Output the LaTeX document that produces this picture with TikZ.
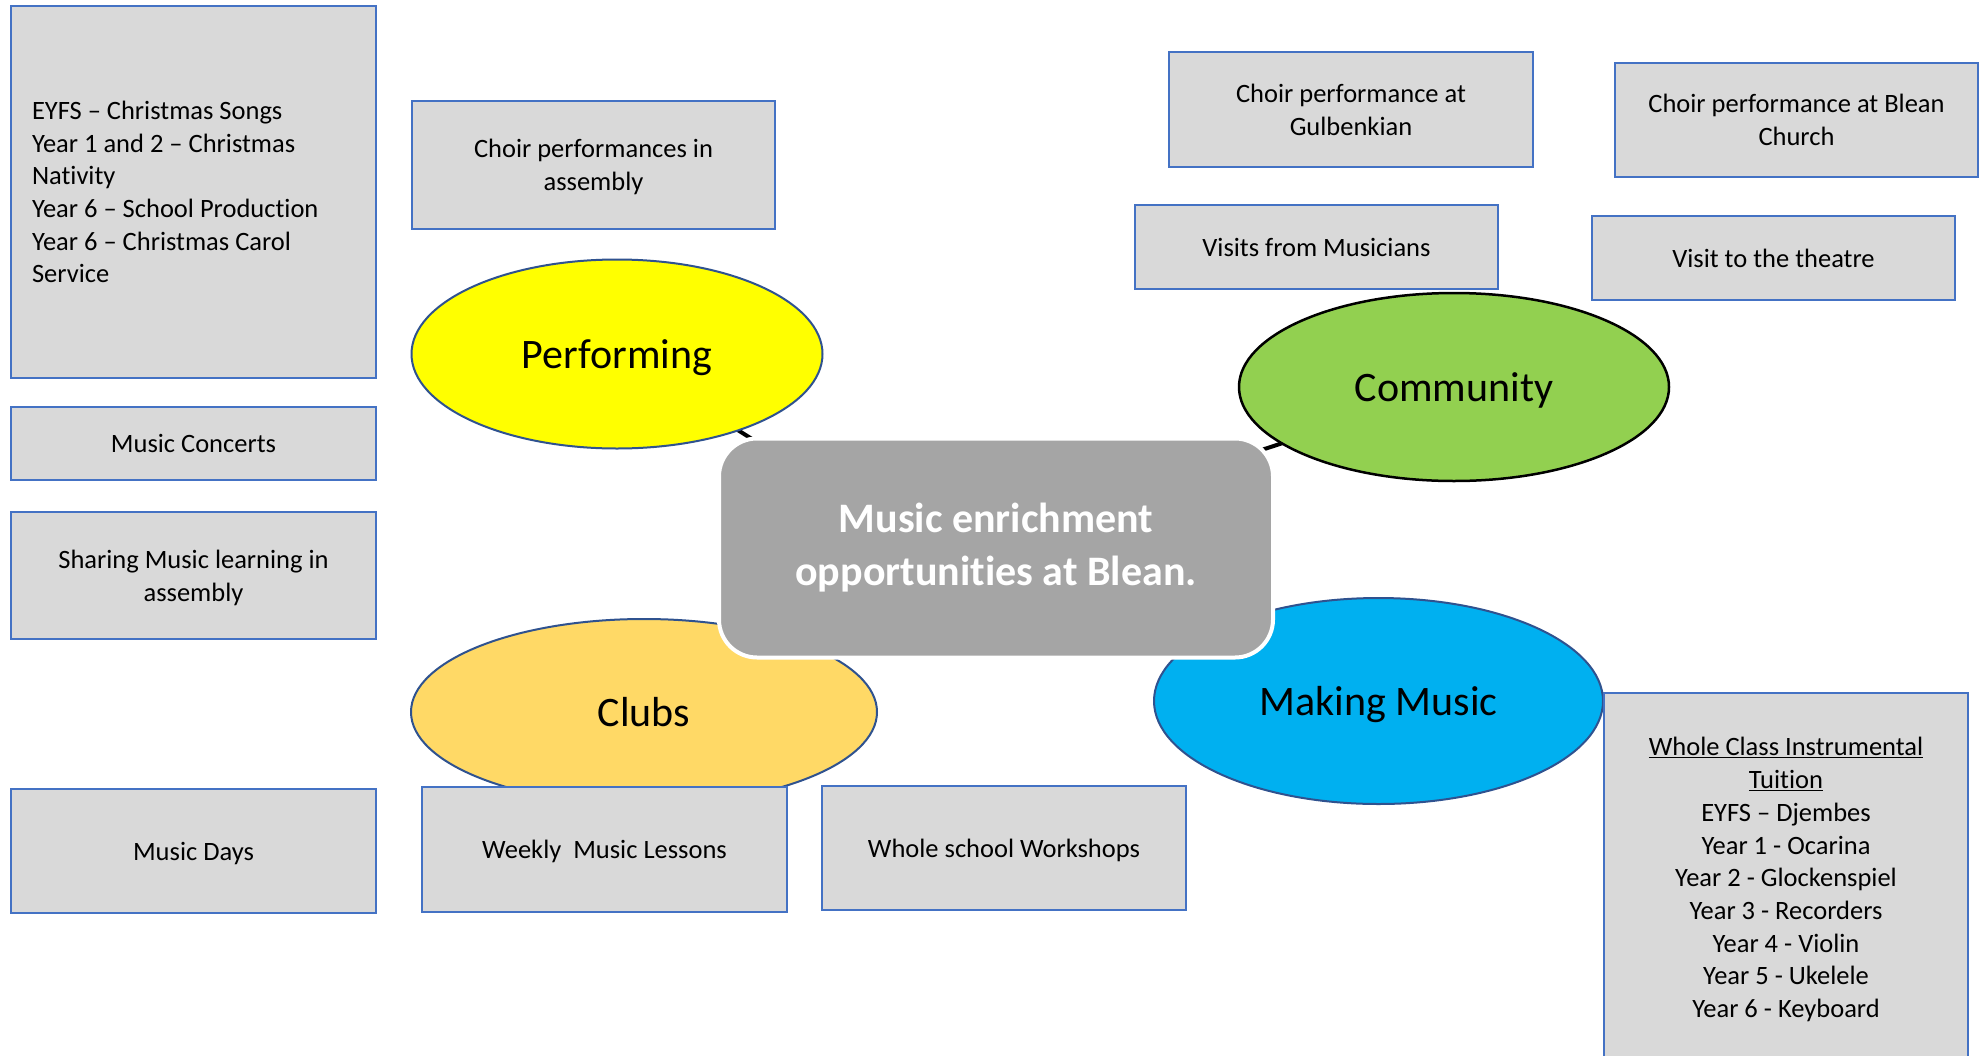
\documentclass[tikz,border=0pt]{standalone}
\usepackage{fontspec}
\setmainfont{Carlito}[Ligatures={TeX,NoCommon}]
\usetikzlibrary{shapes.geometric,calc,backgrounds}
\definecolor{boxfill}{HTML}{D9D9D9}
\definecolor{boxline}{HTML}{4472C4}
\definecolor{ellline}{HTML}{2F528F}
\definecolor{perfc}{HTML}{FFFF00}
\definecolor{commc}{HTML}{92D050}
\definecolor{clubc}{HTML}{FFD966}
\definecolor{makec}{HTML}{00B0F0}
\definecolor{hubc}{HTML}{A5A5A5}
\begin{document}
\begin{tikzpicture}[x=1pt,y=-1pt,
  boxbase/.style={rectangle, draw=boxline, fill=boxfill, line width=1.5pt, inner sep=0pt, font=\fontsize{26.5}{32.7}\selectfont},
  infobox/.style={boxbase, align=center, text depth=0pt},
  topic/.style={ellipse, draw=ellline, line width=2pt, inner sep=0pt, text depth=0pt, font=\fontsize{42}{50}\selectfont},
  hubbox/.style={rectangle, rounded corners=38pt, fill=hubc, draw=white, line width=4pt, text=white, align=center, font=\bfseries\fontsize{42}{53}\selectfont, inner sep=0pt},
  conn/.style={draw=black, line width=4pt}]
\useasboundingbox (0,0) rectangle (1980,1055);
\clip (0,0) rectangle (1980,1055);

% topic ellipses
\node[topic, fill=perfc, minimum width=411pt, minimum height=189pt] (perf) at (617,354) {Performing};
\node[topic, fill=commc, draw=black, line width=2.5pt, minimum width=430pt, minimum height=188pt] (comm) at (1454,387) {Community};
\node[topic, fill=clubc, minimum width=466pt, minimum height=186pt] (club) at (644,712) {Clubs};
\node[topic, fill=makec, minimum width=449pt, minimum height=206pt] (make) at (1378.5,701) {Making Music};

% hub
\node[hubbox, minimum width=554pt, minimum height=219pt] (hub) at (996,548) {Music enrichment\\opportunities at Blean.};

% info boxes
\node[boxbase, align=flush left, text width=323pt, inner xsep=21pt, minimum height=372pt] (eyfs) at (193.5,192)
  {EYFS -- Christmas Songs\\Year 1 and 2 -- Christmas\\Nativity\\Year 6 -- School Production\\Year 6 -- Christmas Carol\\Service};
\node[infobox, minimum width=363pt, minimum height=128pt] (choira) at (593.5,165) {Choir performances in\\assembly};
\node[infobox, minimum width=365pt, minimum height=73pt] (concerts) at (193.5,443.5) {Music Concerts};
\node[infobox, minimum width=365pt, minimum height=127pt] (sharing) at (193.5,575.5) {Sharing Music learning in\\assembly};
\node[infobox, minimum width=365pt, minimum height=124pt] (days) at (193.5,851) {Music Days};
\node[infobox, minimum width=365pt, minimum height=125pt] (weekly) at (604.5,849.5) {Weekly\ \ Music Lessons};
\node[infobox, minimum width=364pt, minimum height=124pt] (workshops) at (1004,848) {Whole school Workshops};
\node[infobox, minimum width=364pt, minimum height=115pt] (gulb) at (1351,109.5) {Choir performance at\\Gulbenkian};
\node[infobox, minimum width=363pt, minimum height=114pt] (bleanch) at (1796.5,120) {Choir performance at Blean\\Church};
\node[infobox, minimum width=363pt, minimum height=84pt] (visits) at (1316.5,247) {Visits from Musicians};
\node[infobox, minimum width=363pt, minimum height=84pt] (theatre) at (1773.5,258) {Visit to the theatre};
\node[infobox, minimum width=364pt, minimum height=369pt] (wct) at (1786,877.5)
  {\underline{Whole Class Instrumental}\\\underline{Tuition}\\EYFS -- Djembes\\Year 1 - Ocarina\\Year 2 - Glockenspiel\\Year 3 - Recorders\\Year 4 - Violin\\Year 5 - Ukelele\\Year 6 - Keyboard};

% connectors behind
\begin{scope}[on background layer]
\fill[white] (0,0) rectangle (1980,1055);
\draw[conn] (perf.center) -- ($(hub.center)!0.4!(hub.south)$);
\draw[conn] (comm.center) -- ($(hub.center)!0.1!(hub.north)$);
\draw[conn] (club.center) -- (hub.center);
\draw[conn] (make.center) -- (hub.center);
\end{scope}
\end{tikzpicture}
\end{document}
